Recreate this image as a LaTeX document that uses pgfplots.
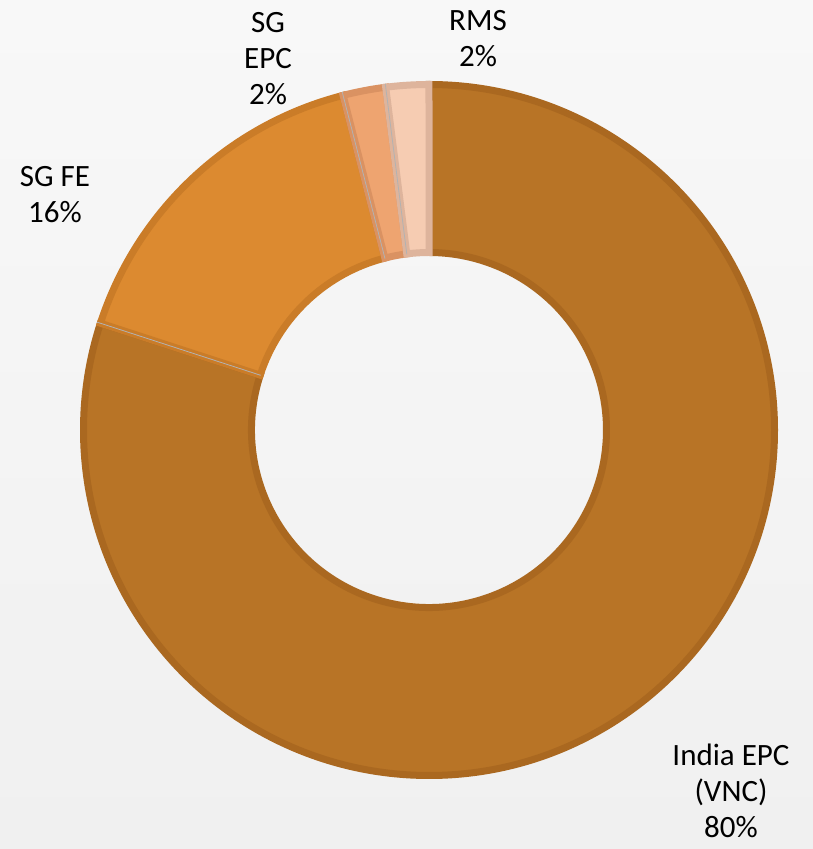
\documentclass[border=0pt]{standalone}
\usepackage{pgfplots}
\pgfplotsset{compat=1.18}
\usepackage{fontspec}
\setmainfont{Carlito}
\definecolor{bgtop}{RGB}{248,248,248}
\definecolor{bgbot}{RGB}{240,240,240}
\definecolor{indiaF}{RGB}{184,116,38}
\definecolor{indiaD}{RGB}{170,104,32}
\definecolor{sgfeF}{RGB}{220,138,48}
\definecolor{sgfeD}{RGB}{202,124,40}
\definecolor{epcF}{RGB}{238,164,112}
\definecolor{epcD}{RGB}{218,146,98}
\definecolor{rmsF}{RGB}{246,204,178}
\definecolor{rmsD}{RGB}{222,180,156}
\tikzset{lbl/.style={font=\fontsize{31}{36}\selectfont,align=center,text=black}}
% ring in px: centre (429,419), outer 349, inner 174
\newcommand\cx{429}\newcommand\cy{419}
\newcommand\ro{345.5}\newcommand\ri{177.5}
% #1 cumulative share before the slice, #2 share, #3 fill, #4 border
\newcommand\slice[4]{%
  \filldraw[fill=#3,draw=#4,line width=7pt,line join=miter]
    (axis cs:{\cx+\ro*cos(90-3.6*#1)},{\cy+\ro*sin(90-3.6*#1)})
    arc[start angle={90-3.6*#1},end angle={90-3.6*(#1+#2)},radius=\ro]
    -- (axis cs:{\cx+\ri*cos(90-3.6*(#1+#2))},{\cy+\ri*sin(90-3.6*(#1+#2))})
    arc[start angle={90-3.6*(#1+#2)},end angle={90-3.6*#1},radius=\ri]
    -- cycle;
  \draw[gray!60,line width=0.8pt]
    (axis cs:{\cx+177*cos(90-3.6*#1)},{\cy+177*sin(90-3.6*#1)})
    -- (axis cs:{\cx+349*cos(90-3.6*#1)},{\cy+349*sin(90-3.6*#1)});
}
\begin{document}
\begin{tikzpicture}
\begin{axis}[width=813pt,height=849pt,scale only axis,hide axis,clip=false,
  xmin=0,xmax=813,ymin=0,ymax=849]
\fill[top color=bgtop,bottom color=bgbot] (axis cs:0,0) rectangle (axis cs:813,849);
\slice{0}{80}{indiaF}{indiaD}
\slice{80}{16}{sgfeF}{sgfeD}
\slice{96}{2}{epcF}{epcD}
\slice{98}{2}{rmsF}{rmsD}
\node[lbl] at (axis cs:55,654) {SG FE\\16\%};
\node[lbl] at (axis cs:268,790) {SG\\EPC\\2\%};
\node[lbl] at (axis cs:478,810) {RMS\\2\%};
\node[lbl] at (axis cs:731,58) {India EPC\\(VNC)\\80\%};
\end{axis}
\end{tikzpicture}
\end{document}
